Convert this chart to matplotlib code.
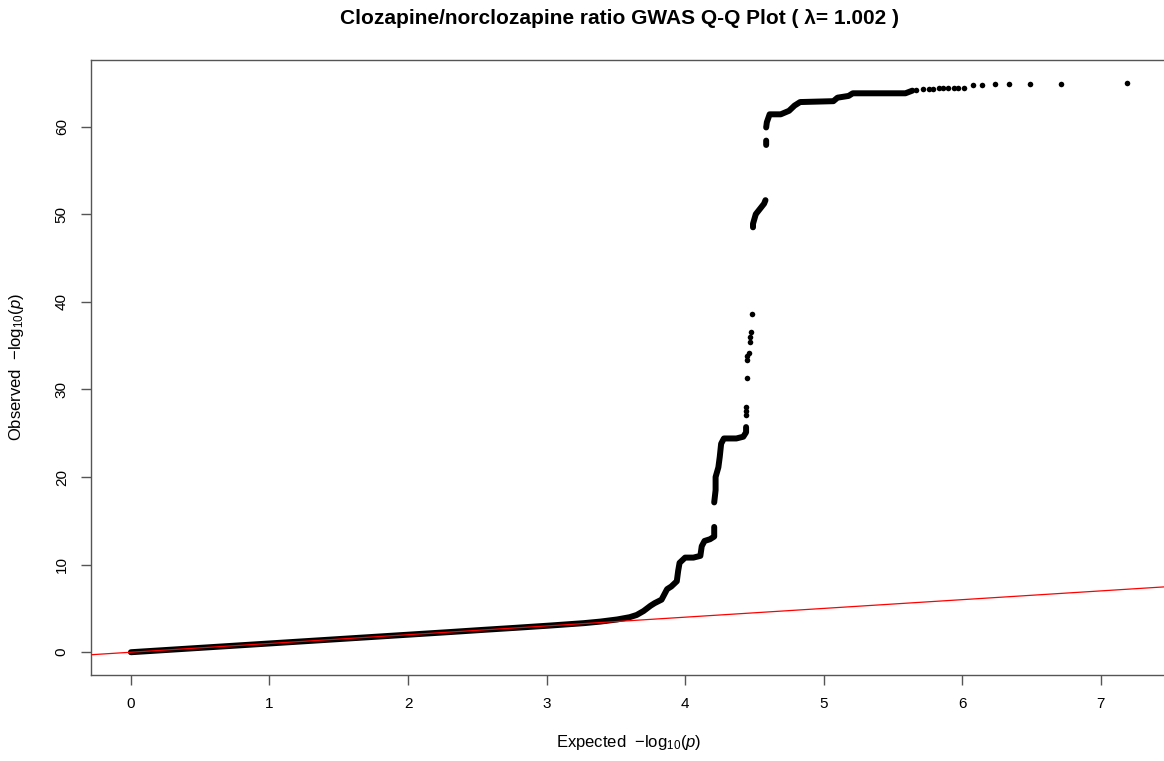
import numpy as np
import matplotlib
matplotlib.use('Agg')
import matplotlib.pyplot as plt

plt.rcParams['font.family'] = ['Liberation Sans', 'DejaVu Sans']
plt.rcParams['mathtext.fontset'] = 'custom'
plt.rcParams['mathtext.rm'] = 'Liberation Sans'
plt.rcParams['mathtext.it'] = 'Liberation Sans:italic'

# dense part of the Q-Q curve (segments split by nan where the points thin out)
band_exp = [0.00, 0.25, 0.50, 0.75, 1.00, 1.25, 1.50, 1.75, 2.00, 2.30, 2.54, 2.78,
            3.03, 3.27, 3.39, 3.51, 3.60, 3.65, 3.70, 3.75, 3.78, 3.83, 3.85, 3.87,
            3.90, 3.94, 3.95, 3.96, 4.00, 4.06, 4.11, 4.12, 4.14, 4.18, 4.21, 4.21,
            np.nan,
            4.21, 4.22, 4.22, 4.24, 4.25, 4.26, 4.28, 4.32, 4.37, 4.42, 4.44, 4.44,
            np.nan,
            4.49, 4.49, 4.51, 4.52, 4.55, 4.57, 4.58,
            np.nan,
            4.585, 4.585,
            np.nan,
            4.585, 4.59, 4.61, 4.69, 4.75, 4.79, 4.83, 5.07, 5.10, 5.18, 5.21, 5.59,
            5.64]
band_obs = [0.00, 0.25, 0.50, 0.75, 1.00, 1.25, 1.50, 1.75, 2.00, 2.30, 2.55, 2.79,
            3.05, 3.32, 3.50, 3.74, 4.00, 4.25, 4.70, 5.30, 5.60, 6.00, 6.60, 7.20,
            7.50, 8.10, 9.30, 10.20, 10.80, 10.80, 11.00, 12.10, 12.70, 12.90, 13.20, 14.30,
            np.nan,
            17.10, 18.50, 20.00, 21.10, 22.30, 23.80, 24.40, 24.40, 24.40, 24.60, 25.10, 25.70,
            np.nan,
            48.50, 48.90, 50.00, 50.20, 50.80, 51.20, 51.60,
            np.nan,
            57.90, 58.40,
            np.nan,
            59.90, 60.50, 61.40, 61.40, 61.80, 62.40, 62.80, 62.90, 63.30, 63.50, 63.80, 63.80,
            64.10]

# isolated points
pt_exp = [4.44, 4.44, 4.44, 4.445, 4.447, 4.45, 4.46, 4.47, 4.47, 4.475, 4.486,
          5.67, 5.72, 5.76, 5.79, 5.83, 5.86, 5.90, 5.94, 5.97, 6.01,
          6.08, 6.14, 6.24, 6.34, 6.49, 6.71, 7.19]
pt_obs = [27.1, 27.5, 28.0, 31.3, 33.3, 33.8, 34.1, 35.4, 36.0, 36.5, 38.6,
          64.2, 64.25, 64.3, 64.3, 64.35, 64.35, 64.4, 64.4, 64.4, 64.4,
          64.8, 64.8, 64.9, 64.9, 64.9, 64.9, 65.0]

lam = 1.002

W, H = 1164, 761
fig = plt.figure(figsize=(W / 100, H / 100), dpi=100)
ax = fig.add_axes([91 / W, 1 - 675 / H, (1167 - 91) / W, (675 - 60) / H])

ax.plot(band_exp, band_obs, color='black', lw=4.3, solid_capstyle='round',
        solid_joinstyle='round', zorder=2)
ax.plot(pt_exp, pt_obs, 'o', color='black', ms=4.0, mew=0, zorder=2)
ax.axline((0, 0), slope=1, color='red', lw=0.9, zorder=3)

ax.set_xlim(-0.288, 7.478)
ax.set_ylim(-2.6, 67.6)
ax.set_xticks(range(0, 8))
ax.set_yticks(range(0, 61, 10))
for s in ax.spines.values():
    s.set_color('#555555')
    s.set_linewidth(1.0)
ax.tick_params(direction='out', length=7, width=1, color='#555555',
               labelsize=11, pad=9)
for lab in ax.get_yticklabels():
    lab.set_rotation(90)
    lab.set_va('center')

fig.text(620 / W, 1 - 18 / H,
         'Clozapine/norclozapine ratio GWAS Q-Q Plot ( \u03bb= %.3f )' % lam,
         ha='center', va='center', fontsize=15, fontweight='bold')
fig.text(629 / W, 1 - 743 / H, r'Expected  $-\mathrm{log}_{10}(p)$',
         ha='center', va='center', fontsize=12)
fig.text(17 / W, 1 - 367 / H, r'Observed  $-\mathrm{log}_{10}(p)$',
         ha='center', va='center', rotation=90, fontsize=12)

fig.savefig('out.png', dpi=100)
